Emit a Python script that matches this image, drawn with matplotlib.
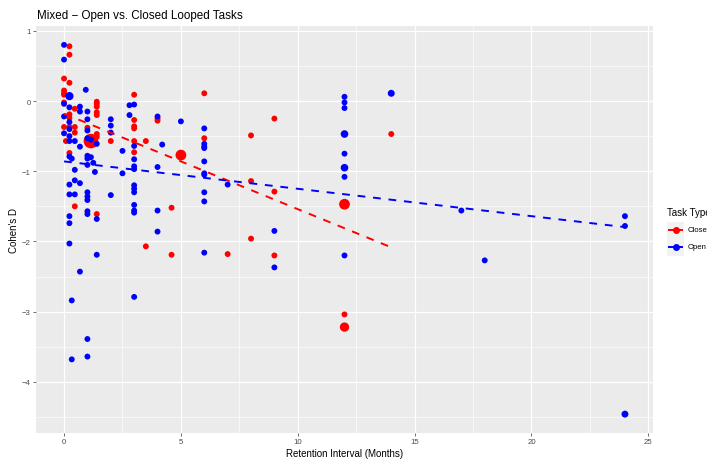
import numpy as np
import matplotlib.pyplot as plt
from matplotlib.lines import Line2D
from matplotlib.patches import Rectangle

plt.rcParams['font.family'] = ['Liberation Sans', 'DejaVu Sans']

# closed looped tasks: retention interval (months), effect size, point size
closed_x = [0, 0, 0, 0, 0, 0, 0.08,
            0.23, 0.23, 0.23, 0.23, 0.23, 0.23, 0.23,
            0.46, 0.46, 0.46, 0.46,
            1.0, 1.15,
            1.4, 1.4, 1.4, 1.4, 1.4, 1.4, 1.4, 1.4,
            2.0,
            3.0, 3.0, 3.0, 3.0, 3.0, 3.0,
            3.5, 3.5, 4.0, 4.0, 4.6, 4.6, 5.0,
            6.0, 6.0, 7.0, 8.0, 8.0, 8.0, 9.0, 9.0, 9.0,
            12.0, 12.0, 12.0, 14.0]
closed_y = [0.32, 0.15, 0.11, 0.09, -0.02, -0.37, -0.57,
            0.78, 0.66, 0.26, -0.19, -0.24, -0.37, -0.74,
            -0.11, -0.37, -0.45, -1.50,
            -0.38, -0.57,
            -0.01, -0.04, -0.08, -0.16, -0.20, -0.47, -0.51, -1.61,
            -0.57,
            0.09, -0.27, -0.36, -0.39, -0.57, -0.73,
            -0.57, -2.07, -0.25, -0.28, -1.52, -2.19, -0.77,
            0.11, -0.53, -2.18, -0.49, -1.14, -1.96, -0.25, -1.29, -2.20,
            -1.47, -3.04, -3.22, -0.47]
closed_size = [18] * len(closed_x)
closed_size[19] = 110   # large study at 1.15 months
closed_size[41] = 60    # 5 months
closed_size[51] = 60    # 12 months, -1.47
closed_size[53] = 45    # 12 months, -3.22

# open looped tasks
open_x = [0, 0, 0, 0, 0,
          0.23, 0.23, 0.23, 0.23, 0.23, 0.23, 0.23, 0.23, 0.23, 0.23, 0.23, 0.23,
          0.33, 0.33, 0.33,
          0.46, 0.46, 0.46, 0.46,
          0.68, 0.68, 0.68, 0.68, 0.68,
          0.93,
          1.0, 1.0, 1.0, 1.0, 1.0, 1.0, 1.0, 1.0, 1.0, 1.0, 1.0, 1.0, 1.0, 1.0,
          1.15, 1.15, 1.25, 1.32,
          1.4, 1.4, 1.4,
          2.0, 2.0, 2.0, 2.0,
          2.5, 2.5, 2.8, 2.8,
          3.0, 3.0, 3.0, 3.0, 3.0, 3.0, 3.0, 3.0, 3.0, 3.0, 3.0, 3.0,
          4.0, 4.0, 4.0, 4.0, 4.2, 5.0,
          6.0, 6.0, 6.0, 6.0, 6.0, 6.0, 6.0, 6.0, 6.0, 6.0,
          7.0, 9.0, 9.0,
          12.0, 12.0, 12.0, 12.0, 12.0, 12.0, 12.0, 12.0,
          14.0, 17.0, 18.0, 24.0, 24.0, 24.0]
open_y = [0.80, 0.59, -0.04, -0.22, -0.46,
          0.07, -0.09, -0.30, -0.40, -0.50, -0.57, -0.79, -1.19, -1.33, -1.64, -1.74, -2.03,
          -0.82, -2.84, -3.68,
          -0.57, -0.98, -1.13, -1.33,
          -0.08, -0.15, -0.65, -1.17, -2.43,
          0.16,
          -0.15, -0.26, -0.42, -0.53, -0.78, -0.82, -0.91, -1.30, -1.36, -1.41, -1.57, -1.61, -3.39, -3.64,
          -0.55, -0.80, -0.88, -1.01,
          -0.61, -1.68, -2.19,
          -0.26, -0.35, -0.45, -1.34,
          -0.71, -1.03, -0.06, -0.20,
          -0.05, -0.64, -0.83, -0.93, -0.97, -1.20, -1.25, -1.30, -1.48, -1.56, -1.59, -2.79,
          -0.22, -0.94, -1.56, -1.86, -0.62, -0.29,
          -0.39, -0.61, -0.65, -0.67, -0.86, -1.03, -1.05, -1.30, -1.43, -2.16,
          -1.19, -1.85, -2.37,
          0.06, -0.02, -0.10, -0.47, -0.75, -0.95, -1.08, -2.20,
          0.11, -1.56, -2.27, -1.64, -1.78, -4.46]
open_size = [18] * len(open_x)
open_size[5] = 35
open_size[93] = 30
open_size[95] = 30
open_size[98] = 25
open_size[103] = 25

# dashed trend lines: (intercept, slope)
closed_fit = (-0.18, -0.136)
open_fit = (-0.86, -0.039)

task_labels = ['Closed', 'Open']
task_colours = ['#FF0000', '#0000FF']

fig = plt.figure(figsize=(7.07, 4.6), dpi=100)
W, H = 707, 460
ax = fig.add_axes([36 / W, 1 - 433.6 / H, 617 / W, 406.2 / H])
ax.set_facecolor('#EBEBEB')
for s in ax.spines.values():
    s.set_visible(False)

ax.scatter(closed_x, closed_y, s=closed_size, c=task_colours[0], linewidths=0, zorder=3)
ax.scatter(open_x, open_y, s=open_size, c=task_colours[1], linewidths=0, zorder=3)

for xs, fit, col in [(closed_x, closed_fit, task_colours[0]), (open_x, open_fit, task_colours[1])]:
    xx = np.array([min(xs), max(xs)])
    ax.plot(xx, fit[0] + fit[1] * xx, color=col, lw=1.4, dashes=(4, 4), zorder=4)

# ggplot-style limits with 5% expansion
all_x = closed_x + open_x
all_y = closed_y + open_y
dx = (max(all_x) - min(all_x)) * 0.05
dy = (max(all_y) - min(all_y)) * 0.05
ax.set_xlim(min(all_x) - dx, max(all_x) + dx)
ax.set_ylim(min(all_y) - dy, max(all_y) + dy)

ax.set_xticks([0, 5, 10, 15, 20, 25])
ax.set_xticks(np.arange(2.5, 25, 5), minor=True)
ax.set_yticks([-4, -3, -2, -1, 0, 1])
ax.set_yticks(np.arange(-4.5, 1, 1), minor=True)
ax.set_yticklabels(['\u22124', '\u22123', '\u22122', '\u22121', '0', '1'])
ax.grid(which='major', color='white', lw=0.9)
ax.grid(which='minor', color='white', lw=0.45)
ax.set_axisbelow(True)
ax.tick_params(which='major', length=2.2, width=0.5, color='#333333',
               labelsize=5.6, labelcolor='#4D4D4D', pad=1.5)
ax.tick_params(which='minor', length=0)

ax.set_xlabel('Retention Interval (Months)', fontsize=7, labelpad=2.5)
ax.set_ylabel("Cohen's D", fontsize=7, labelpad=2)
fig.text(37 / W, 1 - 16 / H, 'Mixed \u2212 Open vs. Closed Looped Tasks',
         fontsize=8.4, ha='left', va='center')

# legend on the right, running past the figure edge
fig.text(667 / W, 1 - 213 / H, 'Task Type', fontsize=7, ha='left', va='center')
for i, (lab, col) in enumerate(zip(task_labels, task_colours)):
    yc = 231 + i * 17
    fig.patches.append(Rectangle((667 / W, 1 - (yc + 8.5) / H), 17 / W, 17 / H,
                                 facecolor='#F2F2F2', edgecolor='none',
                                 transform=fig.transFigure))
    fig.lines.append(Line2D([669 / W, 682 / W], [1 - yc / H, 1 - yc / H], color=col,
                            lw=1.4, transform=fig.transFigure))
    fig.lines.append(Line2D([675.5 / W], [1 - yc / H], color=col, marker='o',
                            markersize=4, lw=0, transform=fig.transFigure))
    fig.text(688 / W, 1 - yc / H, lab, fontsize=5.6, ha='left', va='center')

fig.savefig('out.png', dpi=100)
